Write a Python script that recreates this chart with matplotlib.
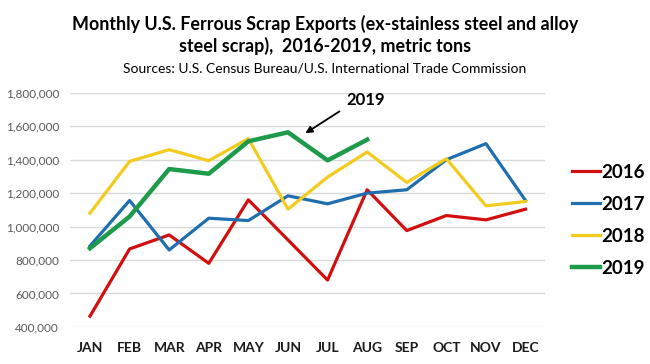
import numpy as np
import matplotlib.pyplot as plt
from matplotlib.ticker import FuncFormatter

plt.rcParams['font.family'] = ['Lato', 'DejaVu Sans']

# month labels and monthly exports (metric tons)
months = ['JAN', 'FEB', 'MAR', 'APR', 'MAY', 'JUN', 'JUL', 'AUG', 'SEP', 'OCT', 'NOV', 'DEC']
exp_2016 = [464000, 866000, 950000, 780000, 1160000, 920000, 680000, 1220000, 976000, 1066000, 1040000, 1104000]
exp_2017 = [884000, 1156000, 860000, 1050000, 1036000, 1184000, 1136000, 1200000, 1220000, 1400000, 1496000, 1156000]
exp_2018 = [1080000, 1390000, 1460000, 1394000, 1526000, 1104000, 1296000, 1446000, 1264000, 1406000, 1124000, 1150000]
exp_2019 = [870000, 1060000, 1344000, 1316000, 1510000, 1564000, 1396000, 1520000]

x = np.arange(len(months))

fig = plt.figure(figsize=(6.5, 3.64), dpi=100)
ax = fig.add_axes([0.108, 0.102, 0.731, 0.643])

ax.plot(x, exp_2016, color='#D10F0F', lw=2.3, label='2016')
ax.plot(x, exp_2017, color='#1F6EAE', lw=2.3, label='2017')
ax.plot(x, exp_2018, color='#F2CB1D', lw=2.3, label='2018')
ax.plot(x[:len(exp_2019)], exp_2019, color='#1E9A4B', lw=3.2, label='2019')

ax.set_xlim(-0.5, 11.5)
ax.set_ylim(400000, 1800000)
ax.set_yticks(np.arange(400000, 1800001, 200000))
ax.yaxis.set_major_formatter(FuncFormatter(lambda v, p: f'{int(v):,}'))
ax.set_xticks(x)
ax.set_xticklabels(months, fontweight='bold', fontsize=10, color='#1a1a1a')
ax.tick_params(axis='y', labelsize=8.5, labelcolor='#595959', length=0, pad=8)
ax.tick_params(axis='x', length=0, pad=11)
ax.grid(axis='y', color='#d9d9d9', lw=1)
ax.set_axisbelow(True)
for s in ax.spines.values():
    s.set_visible(False)

# arrow pointing at 2019
ax.annotate('', xy=(5.38, 1549000), xytext=(6.36, 1698000),
            arrowprops=dict(arrowstyle='-|>', color='black', lw=1.3, mutation_scale=10))
ax.text(6.97, 1758000, '2019', fontsize=12, fontweight='bold', ha='center', va='center')

leg = ax.legend(loc='center left', bbox_to_anchor=(1.02, 0.455), frameon=False,
                prop={'size': 13.5, 'weight': 'bold'}, handlelength=1.5, handletextpad=0.1,
                labelspacing=0.8)

fig.text(0.5, 0.935, 'Monthly U.S. Ferrous Scrap Exports (ex-stainless steel and alloy',
         ha='center', va='center', fontsize=12.9, fontweight='bold')
fig.text(0.5, 0.873, 'steel scrap),  2016-2019, metric tons',
         ha='center', va='center', fontsize=12.9, fontweight='bold')
fig.text(0.5, 0.813, 'Sources: U.S. Census Bureau/U.S. International Trade Commission',
         ha='center', va='center', fontsize=10)

fig.savefig('out.png', dpi=100)
